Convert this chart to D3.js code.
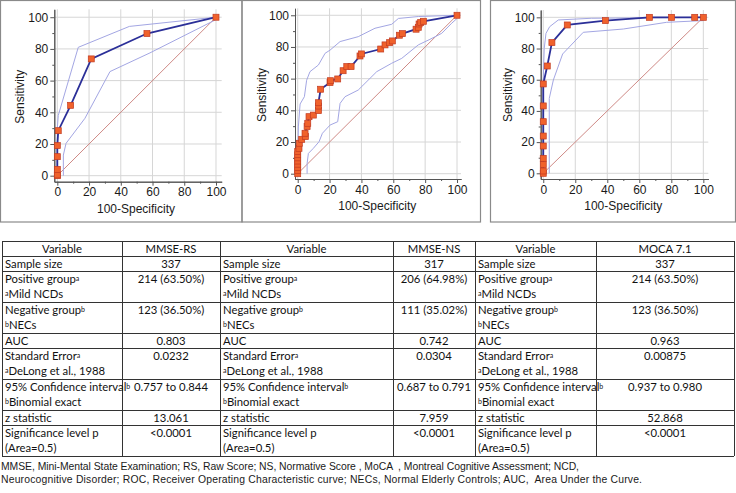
<!DOCTYPE html>
<html><head><meta charset="utf-8">
<script src="https://cdn.jsdelivr.net/npm/d3@7"></script>
<style>body{margin:0;background:#fff}svg{display:block}text{white-space:pre}</style>
</head><body>
<svg id="c" width="736" height="493"></svg>
<script>
// ---------- ROC data (x = 100-Specificity, y = Sensitivity) ----------
const rsX = [0, 0, 0, 0, 0, 0.6, 8.4, 21.4, 56.5, 100];
const rsY = [0, 0.5, 4, 12, 19, 28.4, 44.4, 73.7, 89.7, 100];
const rsUpX = [0, 0, 0.6, 13.2, 45.4, 100];
const rsUpY = [0, 30, 38, 81, 94.2, 100];
const rsLoX = [3.8, 3.8, 5.5, 17.4, 33.2, 58.4, 100];
const rsLoY = [0, 13, 20.4, 36.2, 65.7, 77.5, 98.5];

const nsX = [0, 0, 0, 0, 0, 0, 0, 0, 0.8, 1, 2.5, 4.8, 4.6, 5.9, 6.3, 7.1, 9.8, 13, 13, 13, 14.4, 20.3, 20.5, 25.1, 28.5, 30.8, 33.5, 39.1, 40, 52.1, 54.8, 57.7, 59.4, 63.8, 65.7, 74.3, 75.7, 76.2, 77.2, 78.9, 100];
const nsY = [0, 2, 4, 6, 8, 10, 12, 14, 16, 19.2, 21.7, 23.4, 25.5, 29.7, 31.8, 36, 37, 39.8, 42.7, 44.8, 53.3, 57.5, 58.7, 59.8, 65, 67.6, 67.6, 74.3, 75.6, 78.7, 81.3, 82.7, 83.8, 87.4, 88.4, 91.2, 92.4, 94.5, 95.4, 96.2, 100];
const nsUpX = [0, 0.4, 1.5, 4.2, 5.6, 7.7, 13, 17.2, 20.3, 26.6, 38, 48.5, 59, 63.2, 75.7, 100];
const nsUpY = [0, 29.5, 44, 48.6, 59, 64.4, 68.6, 76, 78, 83.4, 86.5, 91.8, 94.3, 98, 99.2, 100];
const nsLoX = [5.9, 5.9, 6.7, 9.8, 13.4, 15.5, 20.3, 25.1, 26.6, 29.7, 38, 45.4, 49.6, 59, 65.3, 75.7, 83, 90.4, 96.7, 100];
const nsLoY = [0, 6.5, 12.8, 16, 20.2, 25.5, 30.7, 32.8, 44.4, 48.6, 52.8, 60.2, 64.4, 69.7, 72.8, 81.3, 84.8, 88.6, 95, 98];

const mocaX = [0, 0, 0, 0, 0, 0, 0, 0, 0, 2.5, 5.4, 15, 38.8, 66.3, 80.2, 94.6, 100];
const mocaY = [0, 1.5, 5.6, 9.6, 17.5, 23.9, 33.1, 43.2, 57.3, 68.8, 83.8, 95.1, 97.9, 100, 100, 100, 100];
const mocaUpX = [0, 0, 0.6, 1.7, 4, 9.4, 30, 100];
const mocaUpY = [0, 60, 80, 89.7, 94, 98.3, 99.4, 100];
const mocaLoX = [3.75, 3.75, 6.3, 12.1, 25, 50, 77, 100];
const mocaLoY = [0, 48, 59.8, 76.5, 90.4, 92.5, 96.8, 97.9];

const axisTicks = [0, 20, 40, 60, 80, 100];
const minorTicks = [10, 30, 50, 70, 90];

// ---------- Table data ----------
const tableHeaders = ["Variable", "MMSE-RS", "Variable", "MMSE-NS", "Variable", "MOCA 7.1"];
const rowLabels = [
  ["Sample size"],
  ["Positive group^a", "^aMild NCDs"],
  ["Negative group^b", "^bNECs"],
  ["AUC"],
  ["Standard Error^a", "^aDeLong et al., 1988"],
  ["95% Confidence interval^b", "^bBinomial exact"],
  ["z statistic"],
  ["Significance level p", "(Area=0.5)"]
];
const mmseRsValues = ["337", "214 (63.50%)", "123 (36.50%)", "0.803", "0.0232", "0.757 to 0.844", "13.061", "<0.0001"];
const mmseNsValues = ["317", "206 (64.98%)", "111 (35.02%)", "0.742", "0.0304", "0.687 to 0.791", "7.959", "<0.0001"];
const mocaValues   = ["337", "214 (63.50%)", "123 (36.50%)", "0.963", "0.00875", "0.937 to 0.980", "52.868", "<0.0001"];

const footnoteLines = [
  "MMSE, Mini-Mental State Examination; RS, Raw Score; NS, Normative Score , MoCA  , Montreal Cognitive Assessment; NCD,",
  "Neurocognitive Disorder; ROC, Receiver Operating Characteristic curve; NECs, Normal Elderly Controls; AUC,  Area Under the Curve."
];

// ---------- Drawing ----------
const svg = d3.select("#c");
const chartFont = "'Liberation Sans', Arial, sans-serif";
const tableFont = "Lato, 'Open Sans', sans-serif";

const panels = [
  {frame:[0.5, 0.5, 241.5, 221.5], xr:[54.3, 221.7], xd:[-1.9, 103.6], yr:[181.7, 9.3], yd:[-3.8, 105],
   ylab:[20, 96.7], xlab:[136, 209],
   X: rsX, Y: rsY, UX: rsUpX, UY: rsUpY, LX: rsLoX, LY: rsLoY},
  {frame:[242, 0.5, 238.5, 221.5], xr:[295, 461], xd:[-1.7, 102.5], yr:[179, 8.3], yd:[-3.35, 104.4],
   ylab:[261.7, 95], xlab:[377.3, 205.7],
   X: nsX, Y: nsY, UX: nsUpX, UY: nsUpY, LX: nsLoX, LY: nsLoY},
  {frame:[490.5, 0.5, 245, 221.5], xr:[540.7, 708.3], xd:[-1.6, 103.1], yr:[179, 10], yd:[-3.65, 104.7],
   ylab:[508.3, 95], xlab:[623.3, 205.7],
   X: mocaX, Y: mocaY, UX: mocaUpX, UY: mocaUpY, LX: mocaLoX, LY: mocaLoY}
];

panels.forEach(p => {
  const g = svg.append("g");
  g.append("rect").attr("x", p.frame[0]).attr("y", p.frame[1]).attr("width", p.frame[2]).attr("height", p.frame[3])
    .attr("fill", "none").attr("stroke", "#8a8a8a").attr("stroke-width", 1.2);
  const x = d3.scaleLinear().domain(p.xd).range(p.xr);
  const y = d3.scaleLinear().domain(p.yd).range(p.yr);
  g.append("g").selectAll("line").data(axisTicks).join("line")
    .attr("x1", d => x(d)).attr("x2", d => x(d)).attr("y1", p.yr[1]).attr("y2", p.yr[0])
    .attr("stroke", "#d6d6d6").attr("stroke-width", 1);
  g.append("g").selectAll("line").data(axisTicks).join("line")
    .attr("y1", d => y(d)).attr("y2", d => y(d)).attr("x1", p.xr[0]).attr("x2", p.xr[1])
    .attr("stroke", "#d6d6d6").attr("stroke-width", 1);
  const ax = g.append("g").attr("transform", `translate(0,${p.yr[0]})`)
    .call(d3.axisBottom(x).tickValues(axisTicks).tickSize(4).tickPadding(2).tickSizeOuter(0));
  const ay = g.append("g").attr("transform", `translate(${p.xr[0]},0)`)
    .call(d3.axisLeft(y).tickValues(axisTicks).tickSize(4).tickPadding(2).tickSizeOuter(0));
  const axm = g.append("g").attr("transform", `translate(0,${p.yr[0]})`)
    .call(d3.axisBottom(x).tickValues(minorTicks).tickSize(2).tickFormat("").tickSizeOuter(0));
  const aym = g.append("g").attr("transform", `translate(${p.xr[0]},0)`)
    .call(d3.axisLeft(y).tickValues(minorTicks).tickSize(2).tickFormat("").tickSizeOuter(0));
  [ax, ay, axm, aym].forEach(a => {
    a.selectAll("path,line").attr("stroke", "#555");
    a.selectAll("text").attr("font-family", chartFont).attr("font-size", 12).attr("fill", "#1a1a1a");
  });
  g.append("text").attr("transform", `translate(${p.ylab[0]},${p.ylab[1]}) rotate(-90)`)
    .attr("text-anchor", "middle").attr("dominant-baseline", "central")
    .attr("font-family", chartFont).attr("font-size", 12).attr("fill", "#1a1a1a").text("Sensitivity");
  g.append("text").attr("x", p.xlab[0]).attr("y", p.xlab[1])
    .attr("text-anchor", "middle").attr("dominant-baseline", "central")
    .attr("font-family", chartFont).attr("font-size", 12).attr("fill", "#1a1a1a").text("100-Specificity");
  const line = d3.line().x(d => x(d[0])).y(d => y(d[1]));
  g.append("path").attr("d", line([[0, 0], [100, 100]])).attr("fill", "none")
    .attr("stroke", "#cf8a86").attr("stroke-width", 1);
  const up = p.UX.map((v, i) => [v, p.UY[i]]);
  const lo = p.LX.map((v, i) => [v, p.LY[i]]);
  [up, lo].forEach(b => g.append("path").attr("d", line(b)).attr("fill", "none")
    .attr("stroke", "#a3a6e3").attr("stroke-width", 1));
  const pts = p.X.map((v, i) => [v, p.Y[i]]);
  g.append("path").attr("d", line(pts)).attr("fill", "none").attr("stroke", "#2b2f98").attr("stroke-width", 1.8);
  g.append("g").selectAll("rect").data(pts).join("rect")
    .attr("x", d => x(d[0]) - 3).attr("y", d => y(d[1]) - 3).attr("width", 6).attr("height", 6)
    .attr("fill", "#f0622c").attr("stroke", "#c23b22").attr("stroke-width", 0.7);
});

// ---------- Table ----------
const colX = [2, 122, 220, 393, 475, 596, 734];
const tableTop = 241;
const singleH = 15, doubleH = 31;
const rowHeights = [singleH].concat(rowLabels.map(r => r.length > 1 ? doubleH : singleH));
const rowY = [tableTop];
rowHeights.forEach(h => rowY.push(rowY[rowY.length - 1] + h));

const tg = svg.append("g").attr("font-family", tableFont).attr("font-size", 11.3).attr("fill", "#111");
rowY.forEach(yv => tg.append("line").attr("x1", colX[0]).attr("x2", colX[6]).attr("y1", yv).attr("y2", yv)
  .attr("stroke", "#333").attr("stroke-width", 1).attr("shape-rendering", "crispEdges"));
colX.forEach(xv => tg.append("line").attr("x1", xv).attr("x2", xv).attr("y1", rowY[0]).attr("y2", rowY[rowY.length - 1])
  .attr("stroke", "#333").attr("stroke-width", 1).attr("shape-rendering", "crispEdges"));

function addRich(sel, str) {
  const parts = str.split(/(\^.)/).filter(s => s.length);
  parts.forEach(s => {
    if (s[0] === "^") sel.append("tspan").attr("font-size", 7).attr("baseline-shift", "35%").text(s[1]);
    else sel.append("tspan").text(s);
  });
}
tableHeaders.forEach((h, c) => {
  tg.append("text").attr("x", (colX[c] + colX[c + 1]) / 2).attr("y", tableTop + 11.5)
    .attr("text-anchor", "middle").text(h);
});
const valueCols = [mmseRsValues, mmseNsValues, mocaValues];
rowLabels.forEach((lab, r) => {
  const top = rowY[r + 1];
  [0, 2, 4].forEach((c, k) => {
    lab.forEach((ln, li) => {
      const t = tg.append("text").attr("x", colX[c] + 3).attr("y", top + 11.5 + li * 15.5);
      addRich(t, ln);
    });
    tg.append("text").attr("x", (colX[c + 1] + colX[c + 2]) / 2).attr("y", top + 11.5)
      .attr("text-anchor", "middle").text(valueCols[k][r]);
  });
});

// ---------- Footnote ----------
const footWidths = [578, 641];
footnoteLines.forEach((t, i) => {
  svg.append("text").attr("x", 1).attr("y", 469.5 + i * 13).attr("font-family", chartFont)
    .attr("font-size", 10.4).attr("fill", "#1a1a1a").attr("xml:space", "preserve")
    .attr("textLength", footWidths[i]).attr("lengthAdjust", "spacing").text(t);
});
</script>
</body></html>
